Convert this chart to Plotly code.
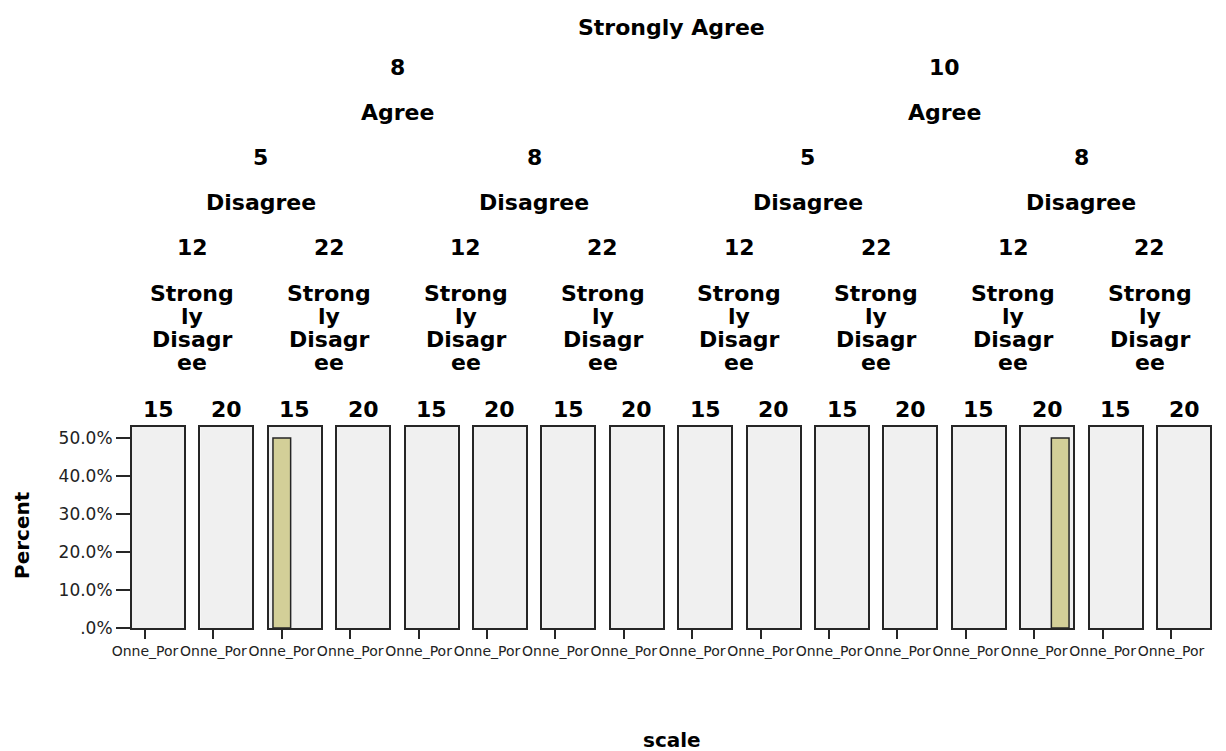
import plotly.graph_objects as go

# ---------------- data ----------------
scale_levels = ["Onne_Por", "Other"]          # x categories in each panel (only first is labelled)
strongly_agree_levels = ["8", "10"]
agree_levels = ["5", "8"]
disagree_levels = ["12", "22"]
strongly_disagree_levels = ["15", "20"]
panel_vars = ["Strongly Agree", "Agree", "Disagree", "Strongly Disagree"]
sd_label_lines = ["Strong", "ly", "Disagr", "ee"]   # wrapped panel label as shown

# Percent in each of the 16 panels (nested SA > A > D > SD), per scale level
pct_onne_por = [0, 0, 50, 0, 0, 0, 0, 0, 0, 0, 0, 0, 0, 0, 0, 0]
pct_other    = [0, 0, 0, 0, 0, 0, 0, 0, 0, 0, 0, 0, 0, 50, 0, 0]

y_tick_vals = [0, 10, 20, 30, 40, 50]
y_tick_text = [".0%", "10.0%", "20.0%", "30.0%", "40.0%", "50.0%"]

# ---------------- layout helpers ----------------
W, H = 1226, 751
PLOT_L, PLOT_R, PLOT_T, PLOT_B = 132, 1210, 427, 628   # page pixels of plot area
ML = PLOT_L
MR = W - PLOT_R
MT = PLOT_T
MB = H - PLOT_B
PW = PLOT_R - PLOT_L
PH = PLOT_B - PLOT_T
N = 16
PITCH = 68.4
PANEL_W = 52

def px_x(px):
    return (px - PLOT_L) / PW

def px_y(py):
    return (PLOT_B - py) / PH

domains = [[(i * PITCH) / PW, min(1.0, (i * PITCH + PANEL_W) / PW)] for i in range(N)]

BAR_COLOR = "#d3cf98"
LINE_COLOR = "#262626"
HFONT = dict(family="DejaVu Sans", size=22, color="#000000")

fig = go.Figure()
layout = {}
for i in range(N):
    sfx = "" if i == 0 else str(i + 1)
    vals = [pct_onne_por[i], pct_other[i]]
    fig.add_trace(go.Bar(
        x=scale_levels,
        y=vals,
        xaxis="x" + sfx, yaxis="y" + sfx,
        marker=dict(color=BAR_COLOR,
                    line=dict(color=LINE_COLOR, width=[1.5 if v > 0 else 0 for v in vals])),
        showlegend=False, hoverinfo="skip",
    ))
    layout["xaxis" + sfx] = dict(
        domain=domains[i], anchor="y" + sfx,
        type="category", categoryorder="array", categoryarray=scale_levels,
        range=[-0.5, 1.5],
        tickmode="array", tickvals=[scale_levels[0]], ticktext=[scale_levels[0]],
        ticks="outside", ticklen=9, tickwidth=2, tickcolor=LINE_COLOR,
        tickfont=dict(family="DejaVu Sans", size=14, color="#222222"),
        tickangle=0,
        showline=True, mirror=True, linecolor=LINE_COLOR, linewidth=2,
        showgrid=False, zeroline=False, fixedrange=True,
    )
    ycfg = dict(
        anchor="x" + sfx, domain=[0, 1], range=[0, 52.9],
        showline=True, mirror=True, linecolor=LINE_COLOR, linewidth=2,
        showgrid=False, zeroline=False, fixedrange=True,
    )
    if i == 0:
        ycfg.update(tickmode="array", tickvals=y_tick_vals, ticktext=y_tick_text,
                    ticks="outside", ticklen=14, tickwidth=2, tickcolor=LINE_COLOR,
                    tickfont=dict(family="DejaVu Sans", size=17, color="#222222"))
    else:
        ycfg.update(showticklabels=False, ticks="")
    layout["yaxis" + sfx] = ycfg

# ---------------- panel headers ----------------
annotations = []

def group_center(start, size):
    return (domains[start][0] + domains[start + size - 1][1]) / 2

def add_text(text, x, py, font=HFONT):
    annotations.append(dict(text="<b>%s</b>" % text, x=x, y=px_y(py), xref="paper", yref="paper",
                            xanchor="center", yanchor="middle", showarrow=False, font=font))

add_text(panel_vars[0], group_center(0, 16), 27)
for g in range(2):
    c = group_center(g * 8, 8)
    add_text(strongly_agree_levels[g], c, 68)
    add_text(panel_vars[1], c, 112)
for g in range(4):
    c = group_center(g * 4, 4)
    add_text(agree_levels[g % 2], c, 157)
    add_text(panel_vars[2], c, 202)
for g in range(8):
    c = group_center(g * 2, 2)
    add_text(disagree_levels[g % 2], c, 247)
    for k, line in enumerate(sd_label_lines):
        add_text(line, c, 293 + 23 * k)
for i in range(N):
    c = (domains[i][0] + domains[i][1]) / 2
    add_text(strongly_disagree_levels[i % 2], c, 409)

# axis titles
TFONT = dict(family="DejaVu Sans", size=20, color="#000000")
annotations.append(dict(text="<b>Percent</b>", x=px_x(22), y=px_y(535), xref="paper", yref="paper",
                        xanchor="center", yanchor="middle", textangle=-90, showarrow=False, font=TFONT))
annotations.append(dict(text="<b>scale</b>", x=px_x(672), y=px_y(740), xref="paper", yref="paper",
                        xanchor="center", yanchor="middle", showarrow=False, font=TFONT))

fig.update_layout(
    width=W, height=H,
    margin=dict(l=ML, r=MR, t=MT, b=MB),
    paper_bgcolor="#ffffff", plot_bgcolor="#f0f0f0",
    bargap=0.32, showlegend=False,
    annotations=annotations,
    **layout,
)

# remove the browser's default body margin so the figure fills the window exactly
fig.write_html("out.html",
               config={"displayModeBar": False},
               post_script="document.body.style.margin='0';document.body.style.overflow='hidden';")
